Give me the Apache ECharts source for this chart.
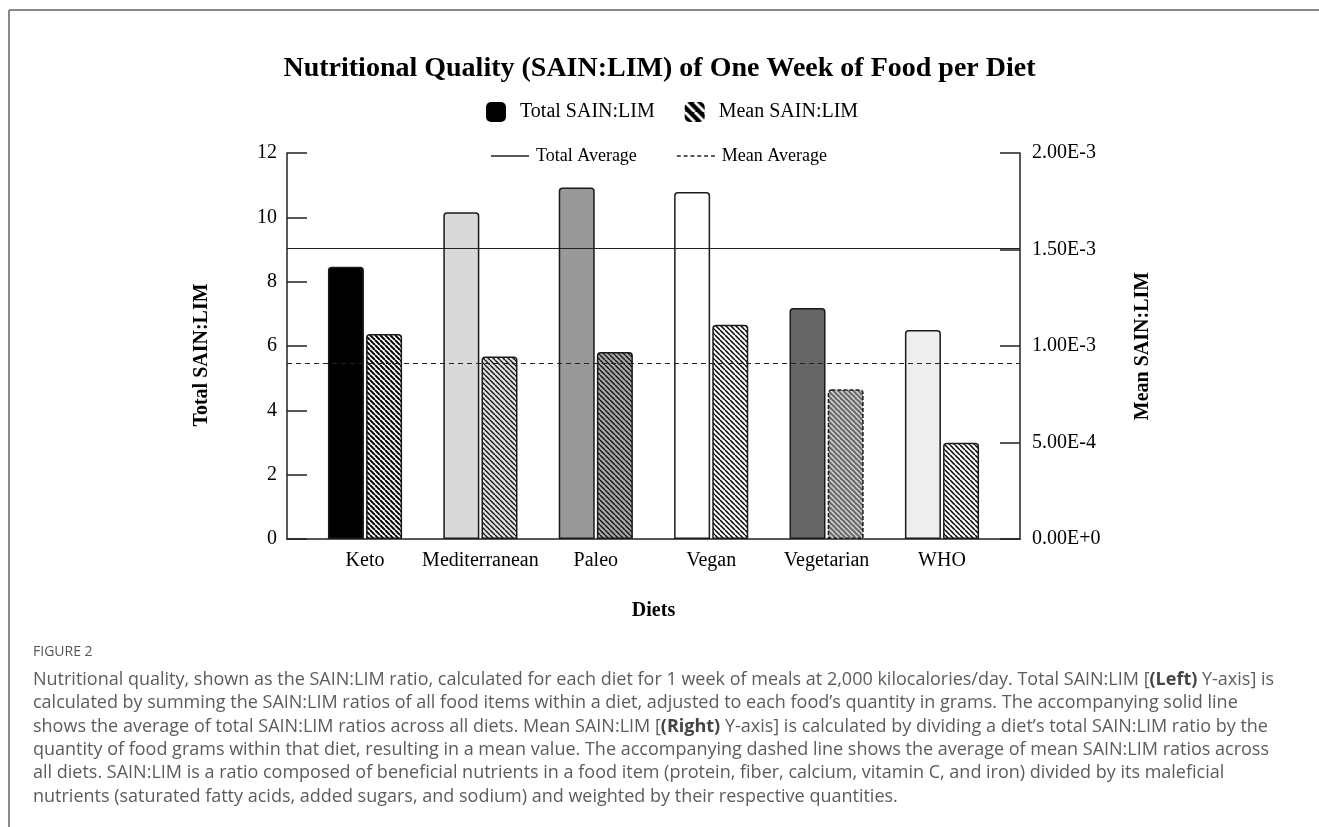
<!DOCTYPE html>
<html><head><meta charset="utf-8">
<script src="https://cdn.jsdelivr.net/npm/echarts@6/dist/echarts.min.js"></script>
<style>html,body{margin:0;padding:0;background:#fff}#c{width:1319px;height:827px}</style>
</head><body><div id="c"></div>
<script>
// ---- data ----
const categories = ['Keto', 'Mediterranean', 'Paleo', 'Vegan', 'Vegetarian', 'WHO'];
const totalValues = [8.46, 10.16, 10.93, 10.79, 7.18, 6.50];
const meanValues = [1.062e-3, 0.945e-3, 0.969e-3, 1.110e-3, 0.776e-3, 0.499e-3];
const totalAverage = 9.04;
const meanAverage = 0.91e-3;
const rightTickValues = [0, 5e-4, 1e-3, 1.5e-3, 2e-3];
const rightTickLabels = ['0.00E+0', '5.00E-4', '1.00E-3', '1.50E-3', '2.00E-3'];

// ---- styles ----
const SERIF = '"Liberation Serif", "Times New Roman", serif';
const totalColors = ['#000000', '#d9d9d9', '#999999', '#ffffff', '#666666', '#eeeeee'];

function hatch(bg, fg, size, lw, scaled) {
  const s = Math.round(size * 2);
  const c = document.createElement('canvas');
  c.width = s; c.height = s;
  const g = c.getContext('2d');
  g.fillStyle = bg; g.fillRect(0, 0, s, s);
  g.strokeStyle = fg; g.lineWidth = lw * 2;
  g.beginPath();
  for (let k = -1; k <= 1; k++) { g.moveTo(k * s, 0); g.lineTo(k * s + s, s); }
  g.stroke();
  const p = { image: c, repeat: 'repeat' };
  if (scaled) { p.scaleX = 0.5; p.scaleY = 0.5; }
  return p;
}
const meanFills = [
  hatch('#ffffff', '#000000', 5, 2.0, true),
  hatch('#e2e2e2', '#111111', 5, 1.4, true),
  hatch('#a8a8a8', '#111111', 5, 1.4, true),
  hatch('#ffffff', '#000000', 5, 1.5, true),
  hatch('#6a6a6a', '#d8d8d8', 5, 1.5, true),
  hatch('#ffffff', '#000000', 5, 1.5, true)
];
const legendHatch = hatch('#000000', '#ffffff', 5, 1.4, false);

const totalData = totalValues.map((v, i) => ({
  value: [i, v],
  itemStyle: { color: totalColors[i] }
}));
const meanData = meanValues.map((v, i) => ({
  value: [i, v],
  itemStyle: { color: meanFills[i], borderType: i === 4 ? [4, 2] : 'solid' }
}));

const captionLines = [
  'Nutritional quality, shown as the SAIN:LIM ratio, calculated for each diet for 1 week of meals at 2,000 kilocalories/day. Total SAIN:LIM [{b|(Left)} Y-axis] is',
  'calculated by summing the SAIN:LIM ratios of all food items within a diet, adjusted to each food\u2019s quantity in grams. The accompanying solid line',
  'shows the average of total SAIN:LIM ratios across all diets. Mean SAIN:LIM [{b|(Right)} Y-axis] is calculated by dividing a diet\u2019s total SAIN:LIM ratio by the',
  'quantity of food grams within that diet, resulting in a mean value. The accompanying dashed line shows the average of mean SAIN:LIM ratios across',
  'all diets. SAIN:LIM is a ratio composed of beneficial nutrients in a food item (protein, fiber, calcium, vitamin C, and iron) divided by its maleficial',
  'nutrients (saturated fatty acids, added sugars, and sodium) and weighted by their respective quantities.'
];
const CAP_FONT = '"Open Sans", Lato, sans-serif';
const CAP_SIZE = 18;
const CAP_LH = 23.4;

const solidIcon = 'path://M0,0H40V1H0Z';
const dashedIcon = 'path://M0,0H4V1H0Z M7,0H11V1H7Z M14,0H18V1H14Z M21,0H25V1H21Z M28,0H32V1H28Z M35,0H39V1H35Z';

const chart = echarts.init(document.getElementById('c'));
chart.setOption({
  animation: false,
  backgroundColor: '#ffffff',
  title: {
    text: 'Nutritional Quality (SAIN:LIM) of One Week of Food per Diet',
    left: 'center', top: 50,
    textStyle: { fontFamily: SERIF, fontWeight: 'bold', fontSize: 28, color: '#000' }
  },
  legend: [
    {
      data: [
        { name: 'Total SAIN:LIM', itemStyle: { color: '#000', borderWidth: 0 } },
        { name: 'Mean SAIN:LIM', itemStyle: { color: legendHatch, borderWidth: 0 } }
      ],
      left: 486, top: 102, padding: 0,
      icon: 'roundRect', itemWidth: 20, itemHeight: 20, itemGap: 30,
      textStyle: { fontFamily: SERIF, fontSize: 20, color: '#000', padding: [0, 0, 0, 9] }
    },
    {
      data: [
        { name: 'Total Average', icon: solidIcon, itemStyle: { color: '#222', borderWidth: 0 }, lineStyle: { width: 0 } },
        { name: 'Mean Average', icon: dashedIcon, itemStyle: { color: '#222', borderWidth: 0 }, lineStyle: { width: 0 } }
      ],
      left: 491, top: 147, padding: 0, symbolKeepAspect: false,
      itemWidth: 38, itemHeight: 1.4, itemGap: 40,
      textStyle: { fontFamily: SERIF, fontSize: 18, color: '#000', padding: [0, 0, 0, 2] }
    }
  ],
  grid: { left: 287, right: 299, top: 153, bottom: 288, containLabel: false },
  xAxis: {
    type: 'value', min: -0.676, max: 5.676,
    name: 'Diets', nameLocation: 'middle', nameGap: 62,
    nameTextStyle: { fontFamily: SERIF, fontWeight: 'bold', fontSize: 20, color: '#000' },
    axisLine: { show: true, onZero: false, lineStyle: { color: '#222', width: 1.5 } },
    axisTick: { show: false },
    splitLine: { show: false },
    axisLabel: {
      customValues: [0, 1, 2, 3, 4, 5],
      formatter: v => categories[Math.round(v)] || '',
      fontFamily: SERIF, fontSize: 20, color: '#000', margin: 12
    }
  },
  yAxis: [
    {
      type: 'value', min: 0, max: 12, interval: 2, position: 'left',
      name: 'Total SAIN:LIM', nameLocation: 'middle', nameGap: 75, nameRotate: 90,
      nameTextStyle: { fontFamily: SERIF, fontWeight: 'bold', fontSize: 20, color: '#000', padding: [0, 0, 0, -18] },
      axisLine: { show: true, onZero: false, lineStyle: { color: '#222', width: 1.5 } },
      axisTick: { show: true, inside: true, length: 20, lineStyle: { color: '#222', width: 1.5 } },
      splitLine: { show: false },
      axisLabel: { fontFamily: SERIF, fontSize: 20, color: '#000', margin: 10 }
    },
    {
      type: 'value', min: 0, max: 2e-3, interval: 5e-4, position: 'right',
      name: 'Mean SAIN:LIM', nameLocation: 'middle', nameGap: 113, nameRotate: 90,
      nameTextStyle: { fontFamily: SERIF, fontWeight: 'bold', fontSize: 20, color: '#000' },
      axisLine: { show: true, onZero: false, lineStyle: { color: '#222', width: 1.5 } },
      axisTick: { show: true, inside: true, length: 20, lineStyle: { color: '#222', width: 1.5 } },
      splitLine: { show: false },
      axisLabel: {
        fontFamily: SERIF, fontSize: 20, color: '#000', margin: 12,
        formatter: v => {
          let best = 0;
          rightTickValues.forEach((t, i) => { if (Math.abs(t - v) < Math.abs(rightTickValues[best] - v)) best = i; });
          return rightTickLabels[best];
        }
      }
    }
  ],
  series: [
    {
      name: 'Total SAIN:LIM', type: 'bar', xAxisIndex: 0, yAxisIndex: 0,
      barWidth: 36, barGap: '6%',
      itemStyle: { color: '#000', borderColor: '#1a1a1a', borderWidth: 1.5, borderRadius: [3, 3, 0, 0] },
      data: totalData, z: 3,
      markLine: {
        silent: true, symbol: 'none', label: { show: false }, z: 5, precision: 8,
        lineStyle: { color: '#222', width: 1.2, type: 'solid' },
        data: [{ yAxis: totalAverage }]
      }
    },
    {
      name: 'Mean SAIN:LIM', type: 'bar', xAxisIndex: 0, yAxisIndex: 1,
      barWidth: 36, barGap: '6%',
      itemStyle: { color: legendHatch, borderColor: '#1a1a1a', borderWidth: 1.5, borderRadius: [3, 3, 0, 0] },
      data: meanData, z: 3,
      markLine: {
        silent: true, symbol: 'none', label: { show: false }, z: 5, precision: 8,
        lineStyle: { color: '#222', width: 1.2, type: [5, 4] },
        data: [{ yAxis: meanAverage }]
      }
    },
    {
      name: 'Total Average', type: 'line', yAxisIndex: 0, data: [], symbol: 'none',
      lineStyle: { color: '#222', width: 1.2, type: 'solid' },
      itemStyle: { color: '#222' }
    },
    {
      name: 'Mean Average', type: 'line', yAxisIndex: 1, data: [], symbol: 'none',
      lineStyle: { color: '#222', width: 1.2, type: [4, 3] },
      itemStyle: { color: '#222' }
    }
  ],
  graphic: [
    { type: 'line', shape: { x1: 9, y1: 10, x2: 1319, y2: 10 }, style: { stroke: '#8a8a8a', lineWidth: 2 }, silent: true },
    { type: 'line', shape: { x1: 9, y1: 10, x2: 9, y2: 827 }, style: { stroke: '#8a8a8a', lineWidth: 2 }, silent: true },
    {
      type: 'text', left: 33, top: 645, silent: true,
      style: { text: 'FIGURE 2', fontFamily: CAP_FONT, fontSize: 14, fill: '#555', fontWeight: 500 }
    },
    {
      type: 'text', left: 33, top: 668, silent: true,
      style: {
        text: captionLines.join('\n'),
        fontFamily: CAP_FONT, fontSize: CAP_SIZE, lineHeight: CAP_LH, fill: '#5c5c5c',
        rich: { b: { fontFamily: CAP_FONT, fontSize: CAP_SIZE, lineHeight: CAP_LH, fontWeight: 'bold', fill: '#444' } }
      }
    }
  ]
});
</script></body></html>
